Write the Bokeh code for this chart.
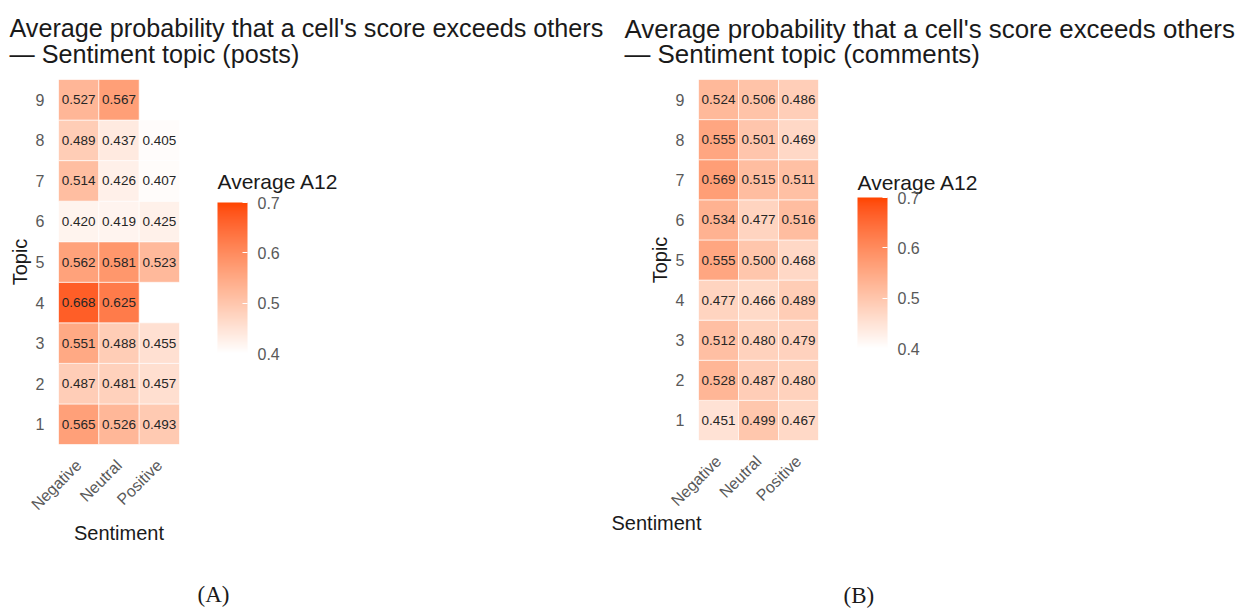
import math
from bokeh.plotting import figure
from bokeh.models import (ColumnDataSource, FactorRange, LinearColorMapper, ColorBar,
                          FixedTicker, PrintfTickFormatter, Title, Label)
from bokeh.layouts import row
from bokeh.embed import file_html
from bokeh.resources import INLINE

# ---------------- data ----------------
sentiments = ["Negative", "Neutral", "Positive"]
topics = ["1", "2", "3", "4", "5", "6", "7", "8", "9"]

posts_negative = [0.565, 0.487, 0.551, 0.668, 0.562, 0.420, 0.514, 0.489, 0.527]
posts_neutral = [0.526, 0.481, 0.488, 0.625, 0.581, 0.419, 0.426, 0.437, 0.567]
posts_positive = [0.493, 0.457, 0.455, None, 0.523, 0.425, 0.407, 0.405, None]

comments_negative = [0.451, 0.528, 0.512, 0.477, 0.555, 0.534, 0.569, 0.555, 0.524]
comments_neutral = [0.499, 0.487, 0.480, 0.466, 0.500, 0.477, 0.515, 0.501, 0.506]
comments_positive = [0.467, 0.480, 0.479, 0.489, 0.468, 0.516, 0.511, 0.469, 0.486]

legend_ticks = [0.4, 0.5, 0.6, 0.7]
scale_low, scale_high = 0.4, 0.7

FONT = "Liberation Sans"
TICK_COLOR = "#595959"
TEXT_COLOR = "#1a1a1a"


# ---------------- Lab gradient palette (white -> orangered) ----------------
def _hex_rgb(h):
    h = h.lstrip("#")
    return [int(h[i:i + 2], 16) for i in (0, 2, 4)]


def _to_lab(rgb):
    lin = []
    for c in rgb:
        c = c / 255.0
        lin.append(c / 12.92 if c <= 0.04045 else ((c + 0.055) / 1.055) ** 2.4)
    r, g, b = lin
    x = (0.4124 * r + 0.3576 * g + 0.1805 * b) / 0.95047
    y = (0.2126 * r + 0.7152 * g + 0.0722 * b) / 1.0
    z = (0.0193 * r + 0.1192 * g + 0.9505 * b) / 1.08883
    d = 6 / 29

    def f(t):
        return t ** (1 / 3) if t > d ** 3 else t / (3 * d * d) + 4 / 29

    fx, fy, fz = f(x), f(y), f(z)
    return [116 * fy - 16, 500 * (fx - fy), 200 * (fy - fz)]


def _from_lab(lab):
    L, a, b = lab
    fy = (L + 16) / 116
    fx = fy + a / 500
    fz = fy - b / 200
    d = 6 / 29

    def finv(t):
        return t ** 3 if t > d else 3 * d * d * (t - 4 / 29)

    x, y, z = 0.95047 * finv(fx), finv(fy), 1.08883 * finv(fz)
    r = 3.2406 * x - 1.5372 * y - 0.4986 * z
    g = -0.9689 * x + 1.8758 * y + 0.0415 * z
    bb = 0.0557 * x - 0.2040 * y + 1.0570 * z
    out = []
    for c in (r, g, bb):
        c = 12.92 * c if c <= 0.0031308 else 1.055 * c ** (1 / 2.4) - 0.055
        out.append(max(0, min(255, int(round(c * 255)))))
    return "#%02x%02x%02x" % tuple(out)


def lab_palette(low, high, n=256):
    a, b = _to_lab(_hex_rgb(low)), _to_lab(_hex_rgb(high))
    return [_from_lab([a[k] + (b[k] - a[k]) * i / (n - 1) for k in range(3)]) for i in range(n)]


palette = lab_palette("#ffffff", "#ff4500")


def panel_label(p, place, text, x, y, size, font=FONT):
    p.add_layout(Label(x=x, y=y, x_units="screen", y_units="screen", text=text,
                       text_font=font, text_font_size=size, text_color=TEXT_COLOR,
                       text_align="left", text_baseline="middle"), place)


def make_panel(title_text, title_size, title_standoff, title_lh, neg, neu, pos, fw, fh,
               left, right, top, bottom, title_offset, own_xlabel, xlab_pos, tag,
               tag_pos, cb_loc, cb_title_pos):
    vals = {"Negative": neg, "Neutral": neu, "Positive": pos}
    xs, ys, vs, labels = [], [], [], []
    for s in sentiments:
        for t, v in zip(topics, vals[s]):
            if v is None:
                continue
            xs.append(s)
            ys.append(t)
            vs.append(v)
            labels.append("%.3f" % v)
    src = ColumnDataSource(dict(x=xs, y=ys, v=vs, label=labels))

    p = figure(frame_width=fw, frame_height=fh, x_range=FactorRange(*sentiments),
               y_range=FactorRange(*topics), output_backend="svg", toolbar_location=None,
               min_border_left=left, min_border_right=right, min_border_top=top,
               min_border_bottom=bottom)
    p.x_range.range_padding = 0
    p.y_range.range_padding = 0
    p.outline_line_color = None
    p.grid.visible = False
    p.background_fill_color = "white"
    p.border_fill_color = "white"

    mapper = LinearColorMapper(palette=palette, low=scale_low, high=scale_high)
    p.rect(x="x", y="y", width=1, height=1, source=src,
           fill_color={"field": "v", "transform": mapper},
           line_color="white", line_width=1, line_alpha=0.6)
    p.text(x="x", y="y", text="label", source=src, text_align="center",
           text_baseline="middle", text_font_size="13.5px", text_color="#262626",
           text_font={"value": FONT})

    # axes
    for ax in (p.xaxis[0], p.yaxis[0]):
        ax.axis_line_color = None
        ax.major_tick_line_color = None
        ax.minor_tick_line_color = None
        ax.major_tick_out = 0
        ax.major_tick_in = 0
        ax.minor_tick_out = 0
        ax.minor_tick_in = 0
        ax.major_label_text_font = FONT
        ax.major_label_text_font_size = "16px"
        ax.major_label_text_color = TICK_COLOR
        ax.axis_label_text_font = FONT
        ax.axis_label_text_font_size = "20px"
        ax.axis_label_text_font_style = "normal"
        ax.axis_label_text_color = TEXT_COLOR
    p.yaxis.axis_label = "Topic"
    p.yaxis.major_label_standoff = 14
    p.yaxis.axis_label_standoff = 2
    p.xaxis.major_label_orientation = math.pi / 4
    p.xaxis.major_label_standoff = 18
    p.xaxis.axis_label_standoff = 0
    if own_xlabel:
        p.xaxis.axis_label = "Sentiment"
    else:
        panel_label(p, "below", "Sentiment", xlab_pos[0], xlab_pos[1], "20px")

    # title
    p.title = Title(text=title_text, align="left", offset=title_offset,
                    text_font=FONT, text_font_size=title_size, text_font_style="normal",
                    text_color=TEXT_COLOR, standoff=title_standoff,
                    text_line_height=title_lh)

    # colour bar
    cb = ColorBar(color_mapper=mapper, ticker=FixedTicker(ticks=legend_ticks),
                  formatter=PrintfTickFormatter(format="%.1f"),
                  width=30, height=151, location=cb_loc, orientation="vertical",
                  major_label_text_font=FONT, major_label_text_font_size="16px",
                  major_label_text_color=TICK_COLOR, label_standoff=10,
                  major_tick_line_color="white", major_tick_in=5, major_tick_out=0,
                  bar_line_color=None, border_line_color=None,
                  background_fill_color=None, padding=0, margin=0)
    p.add_layout(cb, "center")
    panel_label(p, "right", "Average A12", cb_title_pos[0], cb_title_pos[1], "21px")

    # panel tag
    panel_label(p, "below", tag, tag_pos[0], tag_pos[1], "23px", font="Liberation Serif")
    return p


pA = make_panel("Average probability that a cell's score exceeds others\n\u2014 Sentiment topic (posts)",
                "25.2px", 22, 0.95, posts_negative, posts_neutral, posts_positive,
                fw=121, fh=365, left=58, right=429, top=72, bottom=164,
                title_offset=-49, own_xlabel=True, xlab_pos=None,
                tag="(A)", tag_pos=(139, -22), cb_loc=(159, 91), cb_title_pos=(38, 263))
pB = make_panel("Average probability that a cell's score exceeds others\n\u2014 Sentiment topic (comments)",
                "25.9px", 22, 0.92, comments_negative, comments_neutral, comments_positive,
                fw=120, fh=361, left=90, right=418, top=71, bottom=169,
                title_offset=-74, own_xlabel=False, xlab_pos=(-87, 18),
                tag="(B)", tag_pos=(145, -30), cb_loc=(159, 92), cb_title_pos=(39, 258))

layout = row(pA, pB)
open("out.html", "w").write(file_html(layout, INLINE))
